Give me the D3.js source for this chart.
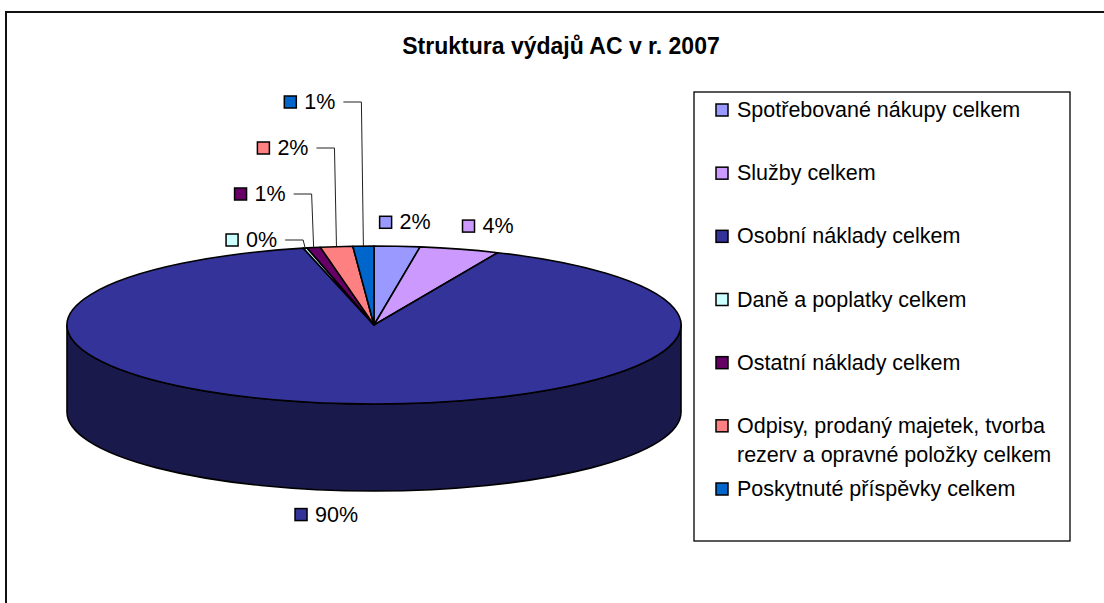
<!DOCTYPE html>
<html>
<head>
<meta charset="utf-8">
<script src="https://cdn.jsdelivr.net/npm/d3@7"></script>
<style>
  body { margin: 0; background: #fff; }
  text { font-family: "Liberation Sans", Arial, sans-serif; fill: #000; }
</style>
</head>
<body>
<svg id="chart" width="1104" height="603"></svg>
<script>
// data (share of total, %)
const categories = [
    'Spotřebované nákupy celkem',
    'Služby celkem',
    'Osobní náklady celkem',
    'Daně a poplatky celkem',
    'Ostatní náklady celkem',
    'Odpisy, prodaný majetek, tvorba rezerv a opravné položky celkem',
    'Poskytnuté příspěvky celkem'
];
const shares = [2.4, 4.2, 89.7, 0.2, 0.7, 1.7, 1.1];
const colors = ['#9999FF', '#CC99FF', '#333399', '#CCFFFF', '#660066', '#FF8080', '#0066CC'];
const title = 'Struktura výdajů AC v r. 2007';

const width = 1104, height = 603;
const svg = d3.select('#chart');
const fmt = d3.format('.0%');

// outer frame (only top and left edges are visible)
svg.append('path')
    .attr('d', `M6,${height} L6,12 L${width},12`)
    .attr('fill', 'none')
    .attr('stroke', '#111')
    .attr('stroke-width', 2);

svg.append('text')
    .attr('x', 561)
    .attr('y', 54)
    .attr('text-anchor', 'middle')
    .style('font-size', '23px')
    .style('font-weight', 'bold')
    .text(title);

// 3d pie geometry
const cx = 374, cy = 325, rx = 307, ry = 79, depth = 87;

const pie = d3.pie().sort(null).value(d => d.v);
const arcs = pie(shares.map((v, i) => ({v: v, i: i})));

function pt(a, dy) {
    return [cx + rx * Math.sin(a), cy - ry * Math.cos(a) + (dy || 0)];
}

function topPath(a0, a1) {
    const p0 = pt(a0), p1 = pt(a1);
    const large = (a1 - a0) > Math.PI ? 1 : 0;
    return `M${cx},${cy} L${p0[0]},${p0[1]} A${rx},${ry} 0 ${large} 1 ${p1[0]},${p1[1]} Z`;
}

function sidePath(a0, a1) {
    const s = Math.max(a0, Math.PI / 2), e = Math.min(a1, Math.PI * 1.5);
    if (e <= s) return null;
    const p0 = pt(s), p1 = pt(e), q1 = pt(e, depth), q0 = pt(s, depth);
    return `M${p0[0]},${p0[1]} A${rx},${ry} 0 0 1 ${p1[0]},${p1[1]} L${q1[0]},${q1[1]} A${rx},${ry} 0 0 0 ${q0[0]},${q0[1]} Z`;
}

const pieG = svg.append('g');

pieG.selectAll('path.side')
    .data(arcs.filter(d => sidePath(d.startAngle, d.endAngle)))
    .enter()
    .append('path')
        .attr('class', 'side')
        .attr('d', d => sidePath(d.startAngle, d.endAngle))
        .attr('fill', d => d3.rgb(colors[d.index]).darker(2))
        .attr('stroke', '#000')
        .attr('stroke-width', 1.6)
        .attr('stroke-linejoin', 'round');

pieG.selectAll('path.top')
    .data(arcs)
    .enter()
    .append('path')
        .attr('class', 'top')
        .attr('d', d => topPath(d.startAngle, d.endAngle))
        .attr('fill', d => colors[d.index])
        .attr('stroke', '#000')
        .attr('stroke-width', 1.6)
        .attr('stroke-linejoin', 'round');

// data labels
const labelG = svg.append('g');
const mid = d => (d.startAngle + d.endAngle) / 2;

function addLabel(d, x, y, anchorEnd) {
    const g = labelG.append('g');
    const t = g.append('text')
        .attr('y', y + 7)
        .style('font-size', '21.5px')
        .text(fmt(shares[d.index] / 100));
    const w = t.node().getComputedTextLength();
    // x is either the right end of the text or the centre of swatch+text
    const textX = anchorEnd ? x - w : x - (w + 21) / 2 + 21;
    t.attr('x', textX);
    g.append('rect')
        .attr('x', textX - 20)
        .attr('y', y - 6)
        .attr('width', 12)
        .attr('height', 12)
        .attr('fill', colors[d.index])
        .attr('stroke', '#000')
        .attr('stroke-width', 1.5);
}

// small slices left of 12 o'clock get stacked with leader lines
const cluster = arcs.filter(d => mid(d) > Math.PI * 1.5)
    .sort((a, b) => mid(a) - mid(b));

cluster.forEach((d, i) => {
    const p = pt(mid(d));
    const y = cy - ry - 6 - i * 46;
    const lx = p[0] - 2;
    labelG.append('path')
        .attr('d', `M${lx - 18},${y} L${lx},${y} L${p[0]},${p[1]}`)
        .attr('fill', 'none')
        .attr('stroke', '#222')
        .attr('stroke-width', 1);
    addLabel(d, lx - 26, y, true);
});

arcs.filter(d => mid(d) <= Math.PI * 1.5).forEach(d => {
    const m = mid(d);
    const below = Math.cos(m) < 0;
    const x = cx + (rx + (below ? 220 : 100)) * Math.sin(m);
    const y = cy - (ry + 24) * Math.cos(m) + (below ? depth : 0);
    addLabel(d, x, y, false);
});

// legend
const legend = svg.append('g');
legend.append('rect')
    .attr('x', 694)
    .attr('y', 92)
    .attr('width', 376)
    .attr('height', 449)
    .attr('fill', '#fff')
    .attr('stroke', '#000')
    .attr('stroke-width', 1.3);

const itemY = d3.scaleLinear().domain([0, categories.length - 1]).range([110, 489]);

categories.forEach((name, i) => {
    const y = itemY(i);
    legend.append('rect')
        .attr('x', 716)
        .attr('y', y - 6)
        .attr('width', 12)
        .attr('height', 12)
        .attr('fill', colors[i])
        .attr('stroke', '#000')
        .attr('stroke-width', 1.5);

    const t = legend.append('text')
        .attr('x', 737)
        .attr('y', y + 7)
        .style('font-size', '21.5px');

    // greedy wrap inside the legend box
    const words = name.split(' ');
    let line = [];
    let tspan = t.append('tspan').attr('x', 737).attr('dy', 0);
    words.forEach(word => {
        line.push(word);
        tspan.text(line.join(' '));
        if (tspan.node().getComputedTextLength() > 328 && line.length > 1) {
            line.pop();
            tspan.text(line.join(' '));
            line = [word];
            tspan = t.append('tspan').attr('x', 737).attr('dy', 29).text(word);
        }
    });
});
</script>
</body>
</html>
